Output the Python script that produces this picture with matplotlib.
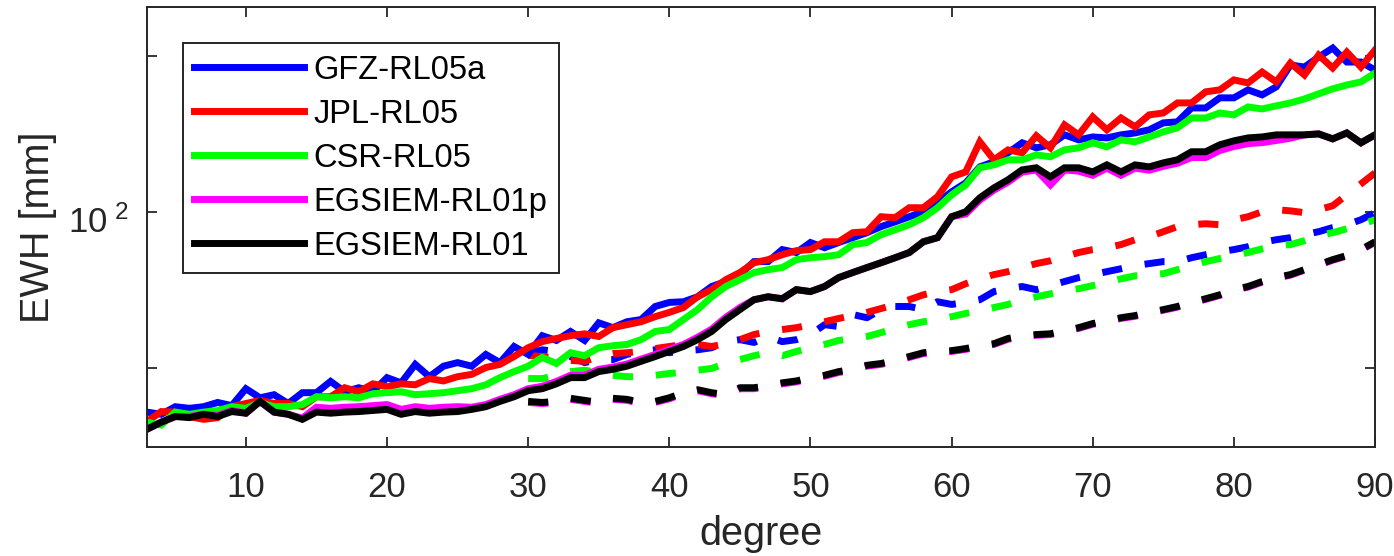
import numpy as np
import matplotlib
matplotlib.use('Agg')
import matplotlib.pyplot as plt
from matplotlib.transforms import ScaledTranslation

plt.rcParams['font.family'] = ['Liberation Sans', 'DejaVu Sans']
plt.rcParams['mathtext.fontset'] = 'custom'
plt.rcParams['mathtext.rm'] = 'Liberation Sans'

# spherical harmonic degree
deg_solid  = np.arange(3, 91)
deg_dashed = np.arange(30, 91)

# solid: signal per degree [mm]
gfz = [41.0, 40.6, 42.0, 41.7, 42.0, 42.8, 42.2, 45.5, 43.7, 44.3,
       42.6, 44.7, 44.7, 47.0, 44.9, 45.7, 44.9, 47.8, 46.7, 50.7,
       48.0, 50.3, 51.1, 50.3, 53.0, 51.1, 54.9, 53.0, 57.6, 56.4,
       58.7, 56.4, 61.0, 59.7, 61.3, 61.9, 65.6, 66.8, 67.0, 68.5,
       71.7, 73.3, 75.6, 80.1, 80.1, 84.5, 83.4, 87.2, 85.2, 87.2,
       89.1, 91.1, 93.6, 95.6, 97.8, 100.0, 104.1, 109.3, 113.7, 122.1,
       124.9, 130.0, 135.9, 132.9, 134.7, 140.8, 137.7, 139.5, 138.9, 140.8,
       142.0, 144.0, 148.5, 149.2, 158.7, 158.7, 166.0, 166.0, 172.0, 168.2,
       174.3, 192.1, 190.4, 199.0, 207.2, 194.7, 194.7, 187.9]
jpl = [39.3, 41.1, 41.0, 40.2, 39.7, 40.0, 42.0, 42.6, 43.2, 42.6,
       42.6, 42.0, 43.9, 43.9, 45.7, 44.9, 46.5, 45.9, 46.5, 46.3,
       47.6, 47.1, 48.0, 48.5, 50.0, 50.7, 52.5, 54.6, 56.1, 56.9,
       57.6, 58.1, 57.4, 59.7, 60.5, 61.3, 62.7, 63.9, 65.3, 68.5,
       70.7, 73.9, 76.3, 79.7, 80.8, 82.6, 84.1, 84.5, 87.5, 87.5,
       91.1, 91.5, 97.8, 97.4, 101.8, 101.8, 106.9, 116.8, 119.4, 136.5,
       126.0, 131.7, 130.0, 140.2, 132.9, 147.2, 140.8, 152.5, 144.0, 151.8,
       145.9, 153.9, 155.2, 162.3, 162.3, 170.5, 172.0, 179.8, 177.4, 186.2,
       178.2, 193.8, 183.8, 200.8, 189.6, 203.5, 190.4, 205.4]
csr = [39.2, 38.7, 41.0, 40.6, 41.0, 41.3, 42.0, 41.7, 42.8, 42.0,
       42.0, 42.4, 43.9, 43.7, 43.9, 43.7, 44.5, 44.7, 44.9, 44.3,
       44.5, 44.7, 45.1, 45.5, 46.3, 47.8, 49.1, 50.3, 52.3, 50.9,
       53.4, 52.7, 54.6, 55.1, 55.4, 56.6, 58.7, 59.2, 61.9, 64.7,
       68.5, 71.7, 73.9, 76.3, 77.3, 78.0, 80.8, 81.5, 81.9, 82.6,
       86.4, 87.2, 90.3, 92.3, 94.4, 97.4, 101.8, 107.8, 112.7, 121.6,
       123.2, 126.0, 126.0, 128.8, 127.7, 131.7, 132.9, 135.9, 133.5, 137.7,
       136.5, 139.5, 142.7, 145.3, 151.8, 151.8, 155.2, 153.9, 159.4, 158.0,
       160.2, 162.3, 165.2, 169.0, 172.8, 175.8, 178.2, 185.4]
egs_p = [38.0, 39.2, 40.2, 40.2, 40.6, 40.4, 41.3, 40.8, 43.0, 41.0,
         40.6, 39.9, 41.9, 41.7, 41.9, 42.0, 42.2, 42.4, 41.5, 42.0,
         41.7, 41.9, 42.0, 41.9, 42.4, 43.4, 44.3, 45.5, 46.0, 47.0,
         48.3, 48.3, 49.6, 50.1, 50.8, 51.9, 53.0, 54.2, 55.4, 57.2,
         59.3, 62.5, 65.3, 67.6, 68.5, 67.9, 70.7, 70.1, 71.7, 74.6,
         76.3, 78.0, 79.7, 81.5, 83.4, 87.5, 89.1, 97.8, 99.0, 105.3,
         110.1, 114.1, 119.3, 120.4, 112.7, 120.4, 119.8, 117.6, 121.4, 117.6,
         121.4, 120.3, 122.4, 124.1, 127.3, 127.3, 131.3, 133.7, 135.4, 136.0,
         137.3, 138.7, 140.8, 141.4, 138.3, 142.0, 135.9, 140.8]
egs = [38.0, 39.2, 40.2, 40.0, 40.6, 40.2, 41.1, 40.8, 43.0, 41.0,
       40.6, 39.7, 41.0, 40.8, 41.0, 41.1, 41.3, 41.5, 40.6, 41.1,
       40.8, 41.0, 41.1, 41.5, 42.0, 43.0, 43.9, 45.1, 45.5, 46.5,
       47.8, 47.8, 49.1, 49.6, 50.3, 51.4, 52.5, 53.7, 54.9, 56.6,
       58.7, 61.9, 64.7, 67.6, 68.5, 67.9, 70.7, 70.1, 71.7, 74.6,
       76.3, 78.0, 79.7, 81.5, 83.4, 87.5, 89.1, 97.8, 100.0, 106.4,
       111.2, 115.3, 120.5, 121.6, 116.8, 121.6, 121.6, 119.4, 123.2, 119.4,
       123.2, 122.1, 124.3, 126.0, 130.6, 130.6, 134.7, 137.1, 138.9, 139.5,
       140.8, 140.8, 140.8, 141.4, 138.3, 142.0, 135.9, 140.8]

# dashed: per degree from degree 30 [mm]
gfz_d = [53.2, 54.1, 53.7, 52.5, 51.1, 51.8, 51.8, 53.0, 53.7, 54.1,
         53.4, 53.9, 54.1, 54.6, 56.1, 56.6, 55.9, 57.4, 56.1, 56.6,
         57.9, 60.5, 60.0, 63.3, 62.4, 64.7, 65.6, 65.6, 64.7, 67.0,
         66.2, 66.8, 67.6, 70.1, 71.0, 71.7, 70.7, 72.0, 73.3, 74.6,
         75.6, 76.6, 77.6, 78.7, 79.4, 80.1, 80.1, 81.5, 82.6, 83.7,
         84.5, 85.6, 87.2, 88.3, 89.1, 90.3, 91.5, 93.2, 94.4, 96.5,
         99.6]
jpl_d = [52.8, 52.5, 52.1, 51.6, 51.4, 52.5, 53.2, 53.4, 53.7, 54.4,
         54.9, 55.4, 55.4, 54.9, 55.6, 56.6, 57.9, 58.7, 59.2, 59.7,
         60.5, 61.3, 62.2, 63.0, 63.9, 65.0, 66.2, 67.6, 69.1, 70.1,
         70.7, 72.6, 74.2, 75.6, 76.6, 78.0, 79.4, 80.4, 81.9, 83.4,
         84.5, 85.2, 86.4, 88.3, 89.5, 91.5, 93.6, 94.4, 94.8, 94.4,
         96.5, 97.8, 100.0, 100.9, 100.4, 99.6, 100.9, 102.7, 107.8, 113.2,
         118.9]
csr_d = [47.6, 47.6, 48.3, 49.1, 49.4, 48.9, 48.3, 48.0, 48.0, 48.3,
         48.7, 48.9, 49.4, 49.8, 50.9, 51.8, 52.7, 53.4, 52.7, 53.7,
         54.6, 55.4, 56.4, 56.9, 57.4, 58.4, 59.5, 60.5, 61.3, 61.9,
         62.7, 63.6, 64.4, 65.3, 66.2, 67.6, 68.5, 69.4, 70.4, 71.0,
         72.0, 72.9, 74.2, 75.2, 75.6, 75.9, 77.3, 78.7, 80.1, 81.2,
         82.3, 83.4, 84.8, 86.0, 86.4, 87.9, 89.9, 91.1, 92.7, 94.4,
         96.5]
egs_p_d = [42.8, 42.6, 42.8, 43.4, 43.0, 42.6, 43.4, 43.2, 42.6, 42.8,
           43.5, 44.5, 45.1, 44.5, 44.1, 45.5, 45.5, 45.9, 46.5, 46.9,
           47.6, 48.1, 48.9, 49.4, 50.3, 50.7, 51.4, 52.3, 53.2, 53.5,
           53.7, 54.2, 54.9, 55.4, 56.7, 57.4, 57.7, 57.9, 58.7, 59.5,
           60.6, 61.4, 62.2, 62.8, 63.7, 64.5, 65.4, 66.6, 67.7, 68.9,
           70.5, 71.5, 73.1, 74.4, 75.4, 77.1, 78.8, 80.6, 82.1, 84.3,
           87.3]
egs_d = [43.0, 42.8, 43.0, 43.6, 43.2, 42.8, 43.6, 43.4, 42.8, 43.0,
         43.7, 44.7, 45.3, 44.7, 44.3, 45.7, 45.7, 46.1, 46.7, 47.1,
         47.8, 48.3, 49.1, 49.6, 50.5, 50.9, 51.6, 52.5, 53.4, 53.7,
         53.9, 54.4, 55.1, 55.6, 56.9, 57.6, 57.9, 58.1, 58.9, 59.7,
         60.8, 61.6, 62.4, 63.0, 63.9, 64.7, 65.6, 66.8, 67.9, 69.1,
         70.7, 71.7, 73.3, 74.6, 75.6, 77.3, 79.0, 80.8, 82.3, 84.5,
         87.5]

names  = ['GFZ-RL05a', 'JPL-RL05', 'CSR-RL05', 'EGSIEM-RL01p', 'EGSIEM-RL01']
colors = ['#0000ff', '#ff0000', '#00ff00', '#ff00ff', '#000000']
solid  = [gfz, jpl, csr, egs_p, egs]
dashed = [gfz_d, jpl_d, csr_d, egs_p_d, egs_d]

fig = plt.figure(figsize=(13.94, 5.56), dpi=100)
ax = fig.add_axes([0.1055, 0.196, 0.8809, 0.7914])

lw = 5.0
for vals, c in zip(dashed, colors):
    ax.plot(deg_dashed, vals, color=c, lw=lw, linestyle=(0, (2.9, 3.3)))
for vals, c, n in zip(solid, colors, names):
    ax.plot(deg_solid, vals, color=c, lw=lw, label=n, solid_joinstyle='miter')

ax.set_yscale('log')
ax.set_xlim(3, 90)
ax.set_ylim(35.1, 248.7)
ax.set_xticks(range(10, 91, 10))
ax.set_yticks([50, 100, 200])
ax.set_yticklabels(['', r'$\mathregular{10^{\,\,2}}$', ''])
ax.minorticks_off()

ax.tick_params(direction='in', length=7, width=1.3, top=True, right=True,
               labelsize=25, colors='#262626', labelcolor='#262626')
ax.tick_params(axis='x', pad=17)
ax.tick_params(axis='y', pad=13)
# the 10^2 label sits a little below its tick in the original
for lbl in ax.get_yticklabels():
    lbl.set_transform(lbl.get_transform() + ScaledTranslation(0, -5 / 72, fig.dpi_scale_trans))
for s in ax.spines.values():
    s.set_linewidth(1.4)
    s.set_color('#262626')

ax.set_xlabel('degree', fontsize=28.5, color='#262626', labelpad=8)
ax.set_ylabel('EWH [mm]', fontsize=28.5, color='#262626', labelpad=8)

leg = ax.legend(loc='upper left', bbox_to_anchor=(0.0293, 0.918), borderaxespad=0,
                fontsize=23.5, handlelength=3.37, handletextpad=0.28, labelspacing=0.4,
                borderpad=0.35, fancybox=False, framealpha=1)
leg.get_frame().set_edgecolor('#262626')
leg.get_frame().set_linewidth(1.4)

plt.savefig('out.png', dpi=100)
